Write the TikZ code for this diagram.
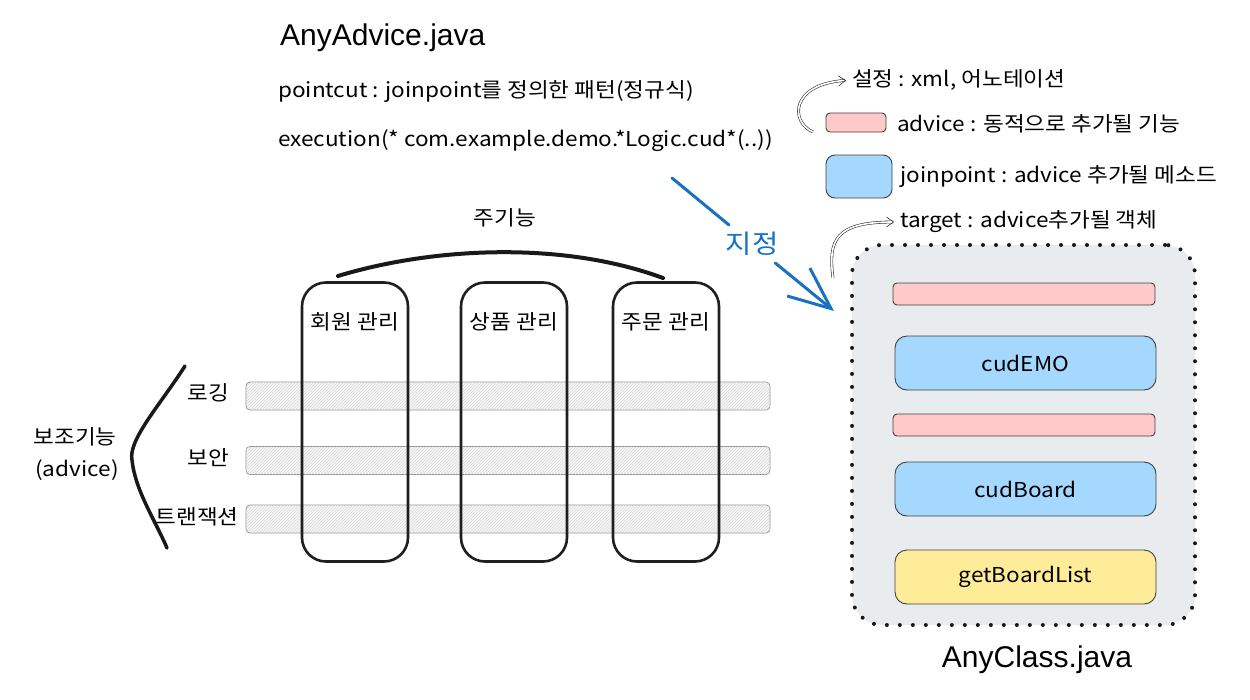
\documentclass[tikz,border=0pt]{standalone}
\usepackage{fontspec}
\newfontfamily\kr[FakeStretch=1.1]{Noto Sans CJK KR}
\newfontfamily\ttl{Liberation Sans}
\usetikzlibrary{arrows.meta,patterns}
\definecolor{arrblue}{HTML}{1971C2}
\definecolor{pinkf}{HTML}{FFC9C9}
\definecolor{bluef}{HTML}{A5D8FF}
\definecolor{yelf}{HTML}{FFEC99}
\definecolor{boxf}{HTML}{E9ECEF}
\begin{document}
\begin{tikzpicture}[x=1pt,y=-1pt,
  hand/.style={font=\kr\fontsize{20.5}{24}\selectfont, inner sep=0pt, anchor=west},
  lbl/.style={font=\kr\fontsize{20.5}{24}\selectfont, inner sep=0pt},
  title/.style={font=\ttl\fontsize{30}{34}\selectfont, inner sep=0pt},
  pillar/.style={draw=black!88, line width=2.6, rounded corners=24, minimum width=106, minimum height=279},
  hbar/.style={draw=gray!85, line width=0.8, fill=gray!6, rounded corners=4, minimum width=524, minimum height=28,
     postaction={pattern=north east lines, pattern color=gray!30}},
  pinkbar/.style={draw=black!75, line width=0.9, fill=pinkf, rounded corners=4},
  bluebar/.style={draw=black!75, line width=0.9, fill=bluef, rounded corners=12},
  yelbar/.style={draw=black!75, line width=0.9, fill=yelf, rounded corners=12},
  dblarrow/.style={draw=black!80, double=white, double distance=1.6pt, line width=0.6pt, shorten >=6pt, -{Straight Barb[length=7pt,width=10pt]}}
]
\useasboundingbox (0,0) rectangle (1250,699);
\fill[white] (0,0) rectangle (1250,699);

% top-left texts
\node[title, anchor=west] (t1) at (280,38) {AnyAdvice.java};
\node[hand] (pc) at (278,92) {pointcut : joinpoint를 정의한 패턴(정규식)};
\node[hand] (ex) at (278,141) {execution(* com.example.demo.*Logic.cud*(..))};

% legend
\node[hand] (lg1) at (852,80) {설정 : xml, 어노테이션};
\node[pinkbar, minimum width=60, minimum height=19] (lgp) at (856,122.5) {};
\node[hand] (lg2) at (897,124) {advice : 동적으로 추가될 기능};
\node[bluebar, rounded corners=9, minimum width=66, minimum height=43] (lgb) at (859,176.5) {};
\node[hand] (lg3) at (900,177) {joinpoint : advice 추가될 메소드};
\node[hand] (lg4) at (900,222) {target : advice추가될 객체};
\coordinate (a1s) at (813,132);
\coordinate (a2s) at (833,278);
\draw[dblarrow] (a1s) .. controls (790,122) and (790,84) .. (lg1.west);
\draw[dblarrow] (a2s) .. controls (828,240) and (835,222) .. (lg4.west);

% main functions
\node[lbl] (main) at (505,218) {주기능};
\draw[line width=4, line cap=round, black!90] (338,276) .. controls (430,248) and (560,240) .. (663,278);

\node[hbar] (b1) at (508,396) {};
\node[hbar] (b2) at (508,460.5) {};
\node[hbar] (b3) at (508,519) {};

\node[pillar] (p1) at (355,422) {};
\node[pillar] (p2) at (514,422) {};
\node[pillar] (p3) at (666,422) {};
\node[lbl] at (355,322) {회원 관리};
\node[lbl] at (514,322) {상품 관리};
\node[lbl] at (666,322) {주문 관리};

\node[lbl] (l1) at (208,393) {로깅};
\node[lbl] (l2) at (208,458) {보안};
\node[lbl] (l3) at (197,517) {트랜잭션};
\node[lbl] (aux) at (75,437) {보조기능};
\node[lbl] (auxa) at (77,470) {(advice)};
\draw[line width=3.5, line cap=round, black!90] (185,366) .. controls (160,405) and (128,440) .. (132,460) .. controls (135,490) and (155,520) .. (167,548);

% blue arrow
\coordinate (bs) at (672,178);
\node[font=\kr\fontsize{26}{30}\selectfont, text=arrblue, inner sep=7pt] (jj) at (752,244) {지정};
\coordinate (be) at (834,311);
\draw[arrblue, line width=3, line cap=round] (bs) -- (jj);
\draw[arrblue, line width=3, line cap=round, -{Straight Barb[length=42pt,width=36pt,line width=3pt]}] (jj) -- (be);

% target class
\node[draw=black!90, line width=4, dash pattern=on 0pt off 13pt, line cap=round, fill=boxf, rounded corners=30,
      minimum width=343, minimum height=380] (cls) at (1023.5,435) {};
\node[pinkbar, minimum width=262, minimum height=22] (r1) at (1024,294) {};
\node[bluebar, minimum width=261, minimum height=54, lbl] (r2) at (1025.5,363) {cudEMO};
\node[pinkbar, minimum width=262, minimum height=22] (r3) at (1024,425) {};
\node[bluebar, minimum width=261, minimum height=54, lbl] (r4) at (1025.5,489) {cudBoard};
\node[yelbar, minimum width=261, minimum height=54, lbl] (r5) at (1025.5,577) {getBoardList};
\node[title] (t2) at (1037,660) {AnyClass.java};
\end{tikzpicture}
\end{document}
